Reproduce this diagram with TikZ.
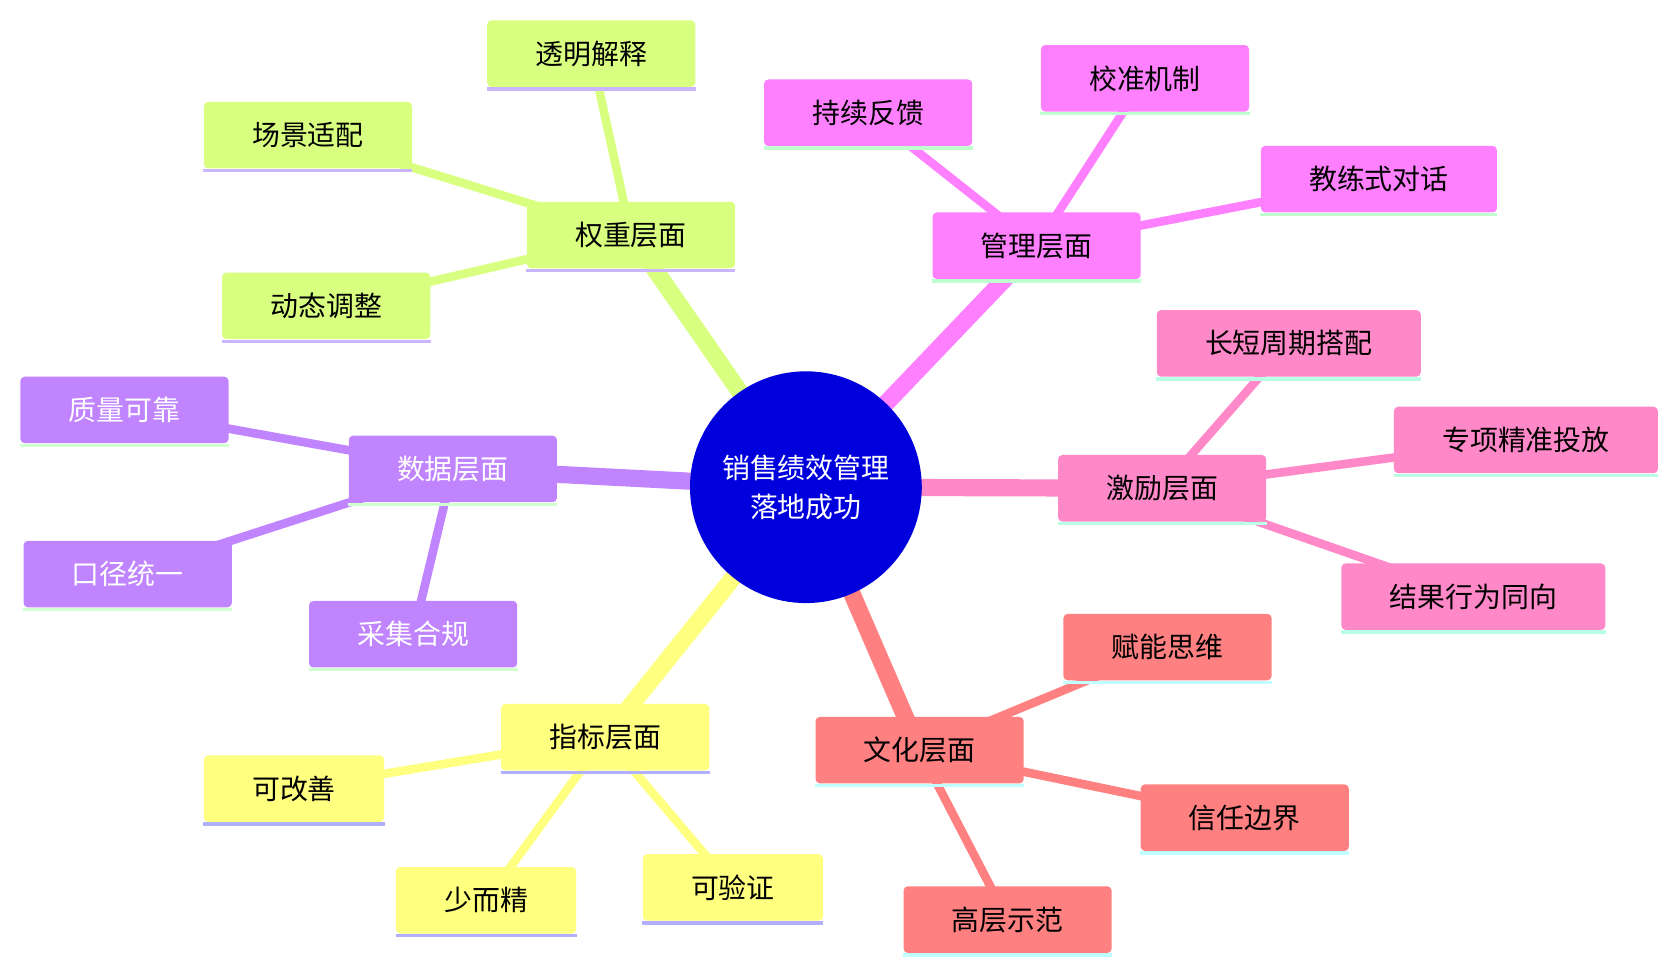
\documentclass[tikz,border=0pt]{standalone}
\usepackage{fontspec}
\setmainfont{Noto Sans CJK SC}
\usetikzlibrary{backgrounds}
\definecolor{xcg}{HTML}{D9FF80}\definecolor{xug}{HTML}{C9B6FF}
\definecolor{xcm}{HTML}{FF80FF}\definecolor{xum}{HTML}{C0FFD0}
\definecolor{xcp}{HTML}{FF88C8}\definecolor{xup}{HTML}{B8FFE6}
\definecolor{xcr}{HTML}{FF8080}\definecolor{xur}{HTML}{C0FFFF}
\definecolor{xcy}{HTML}{FFFF80}\definecolor{xuy}{HTML}{B0B0FF}
\definecolor{xcv}{HTML}{C084FF}\definecolor{xuv}{HTML}{D0FFD0}
\definecolor{rootc}{HTML}{0000DD}
\begin{document}
\begin{tikzpicture}[x=0.5pt,y=-0.5pt,
  box/.style={rectangle,rounded corners=2pt,fill=#1,inner xsep=22.5pt,minimum height=31pt,inner ysep=0pt,font=\fontsize{13}{15}\selectfont,text=black},
  wbox/.style={box=#1,text=white},
  mainedge/.style={line width=8pt},
  leafedge/.style={line width=4pt},
  uline/.style={line width=1.6pt}]
\useasboundingbox (0,0) rectangle (1560,902);
\node[circle,fill=rootc,minimum size=108pt,inner sep=0pt,align=center,text=white,font=\fontsize{13}{18}\selectfont] (root) at (751,454) {销售绩效管理\\落地成功};
% nodes
\node[box=xcg] (g) at (588,219) {权重层面};
\node[box=xcg] (g1) at (551,50) {透明解释};
\node[box=xcg] (g2) at (287,126) {场景适配};
\node[box=xcg] (g3) at (304,285) {动态调整};
\node[box=xcm] (m) at (966,229) {管理层面};
\node[box=xcm] (m1) at (809,105) {持续反馈};
\node[box=xcm] (m2) at (1067,73) {校准机制};
\node[box=xcm] (m3) at (1285,167) {教练式对话};
\node[box=xcp] (p) at (1083,455) {激励层面};
\node[box=xcp] (p1) at (1201,320) {长短周期搭配};
\node[box=xcp] (p2) at (1422,410) {专项精准投放};
\node[box=xcp] (p3) at (1373,556) {结果行为同向};
\node[box=xcr] (r) at (857,699) {文化层面};
\node[box=xcr] (r1) at (1088,603) {赋能思维};
\node[box=xcr] (r2) at (1160,762) {信任边界};
\node[box=xcr] (r3) at (939,857) {高层示范};
\node[box=xcy] (y) at (564,687) {指标层面};
\node[box=xcy] (y1) at (274,735) {可改善};
\node[box=xcy] (y2) at (453,839) {少而精};
\node[box=xcy] (y3) at (683,827) {可验证};
\node[wbox=xcv] (v) at (422,437) {数据层面};
\node[wbox=xcv] (v1) at (116,382) {质量可靠};
\node[wbox=xcv] (v2) at (119,535) {口径统一};
\node[wbox=xcv] (v3) at (385,591) {采集合规};
% underlines
\foreach \n/\c in {g/xug,g1/xug,g2/xug,g3/xug,m/xum,m1/xum,m2/xum,m3/xum,p/xup,p1/xup,p2/xup,p3/xup,r/xur,r1/xur,r2/xur,r3/xur,y/xuy,y1/xuy,y2/xuy,y3/xuy,v/xuv,v1/xuv,v2/xuv,v3/xuv}
  \draw[color=\c,uline] ([yshift=-0.8pt]\n.south west) -- ([yshift=-0.8pt]\n.south east);
% edges
\begin{pgfonlayer}{background}
\foreach \a/\c in {g/xcg,m/xcm,p/xcp,r/xcr,y/xcy,v/xcv}{
  \draw[color=\c,mainedge] (root.center) -- (\a.center);
  \foreach \i in {1,2,3}
    \draw[color=\c,leafedge] (\a.center) -- (\a\i.center);
}
\end{pgfonlayer}
\end{tikzpicture}
\end{document}
